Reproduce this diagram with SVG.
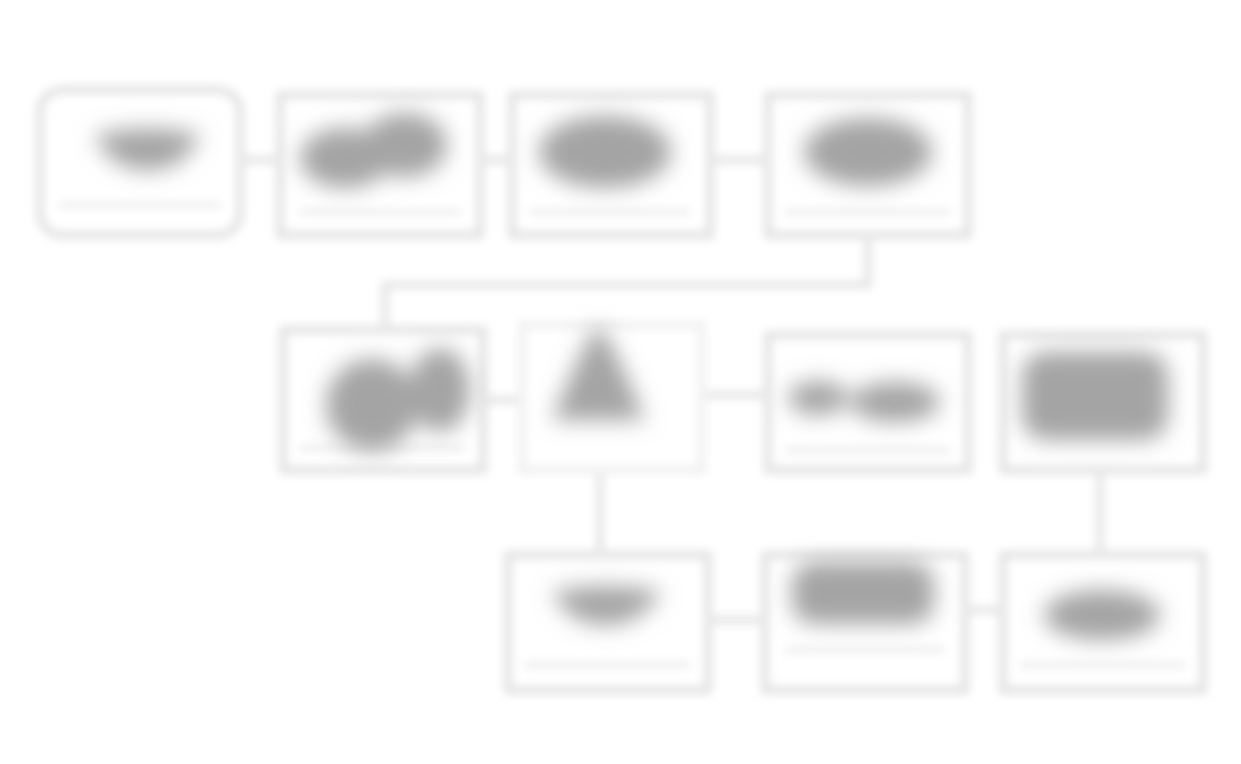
<svg xmlns="http://www.w3.org/2000/svg" width="1241" height="764" viewBox="0 0 1241 764">
<defs>
<filter id="soft" x="-20%" y="-20%" width="140%" height="140%"><feGaussianBlur stdDeviation="5"/></filter>
<filter id="blob" x="-40%" y="-40%" width="180%" height="180%"><feGaussianBlur stdDeviation="11"/></filter>
<style>
.box{fill:#ffffff;stroke:#e2e2e2;stroke-width:8}
.inner{fill:none;stroke:#ebebeb;stroke-width:6}
.ill{fill:#a4a4a4}
.conn{fill:none;stroke:#e3e3e3;stroke-width:7}
</style>
</defs>
<rect width="1241" height="764" fill="#ffffff"/>
<g id="connectors" filter="url(#soft)">
<path class="conn" d="M240 160 H280"/>
<path class="conn" d="M480 160 H512"/>
<path class="conn" d="M710 160 H768"/>
<path class="conn" d="M868 235 V285 H385 V330"/>
<path class="conn" d="M483 400 H525"/>
<path class="conn" d="M700 395 H768"/>
<path class="conn" d="M600 470 V555"/>
<path class="conn" d="M1100 470 V555"/>
<path class="conn" d="M1003 610 H965"/>
<path class="conn" d="M708 620 H765"/>
</g>
<g id="node-a" filter="url(#soft)">
<rect class="box" x="40" y="90" width="200" height="145" rx="22"/>
<path class="inner" d="M60 205 H220"/>
</g>
<g id="node-b" filter="url(#soft)">
<rect class="box" x="280" y="95" width="200" height="140"/>
<path class="inner" d="M300 212 H460"/>
</g>
<g id="node-c" filter="url(#soft)">
<rect class="box" x="512" y="95" width="198" height="140"/>
<path class="inner" d="M530 212 H690"/>
</g>
<g id="node-d" filter="url(#soft)">
<rect class="box" x="768" y="95" width="200" height="140"/>
<path class="inner" d="M785 212 H950"/>
</g>
<g id="node-e" filter="url(#soft)">
<rect class="box" x="283" y="330" width="200" height="140"/>
<path class="inner" d="M300 448 H465"/>
</g>
<g id="node-f" filter="url(#soft)">
<rect class="box" x="522" y="325" width="180" height="145" style="stroke:#f0f0f0"/>
</g>
<g id="node-g" filter="url(#soft)">
<rect class="box" x="768" y="335" width="200" height="135"/>
<path class="inner" d="M785 450 H950"/>
</g>
<g id="node-i" filter="url(#soft)">
<rect class="box" x="1003" y="335" width="200" height="135"/>
</g>
<g id="node-h" filter="url(#soft)">
<rect class="box" x="508" y="555" width="200" height="135"/>
<path class="inner" d="M525 665 H690"/>
</g>
<g id="node-j" filter="url(#soft)">
<rect class="box" x="765" y="555" width="200" height="135"/>
<path class="inner" d="M785 650 H945"/>
</g>
<g id="node-k" filter="url(#soft)">
<rect class="box" x="1003" y="555" width="200" height="135"/>
<path class="inner" d="M1020 665 H1185"/>
</g>
<g id="illustrations" filter="url(#blob)">
<path class="ill" d="M95 135 Q150 122 200 135 Q185 170 148 170 Q110 170 95 135 Z"/>
<ellipse class="ill" cx="345" cy="158" rx="45" ry="30"/>
<ellipse class="ill" cx="405" cy="145" rx="42" ry="32"/>
<ellipse class="ill" cx="605" cy="152" rx="66" ry="36"/>
<ellipse class="ill" cx="868" cy="152" rx="64" ry="34"/>
<ellipse class="ill" cx="372" cy="405" rx="46" ry="46" transform="rotate(-20 372 405)"/>
<ellipse class="ill" cx="440" cy="390" rx="30" ry="42"/>
<path class="ill" d="M598 325 Q612 340 645 420 L552 420 Q585 340 598 325 Z"/>
<ellipse class="ill" cx="818" cy="398" rx="30" ry="17"/>
<ellipse class="ill" cx="895" cy="402" rx="45" ry="20"/>
<rect class="ill" x="1022" y="352" width="146" height="88" rx="24"/>
<path class="ill" d="M552 592 Q605 580 662 592 Q640 625 605 625 Q570 625 552 592 Z"/>
<rect class="ill" x="792" y="562" width="142" height="62" rx="22"/>
<ellipse class="ill" cx="1102" cy="615" rx="58" ry="25"/>
</g>
</svg>
